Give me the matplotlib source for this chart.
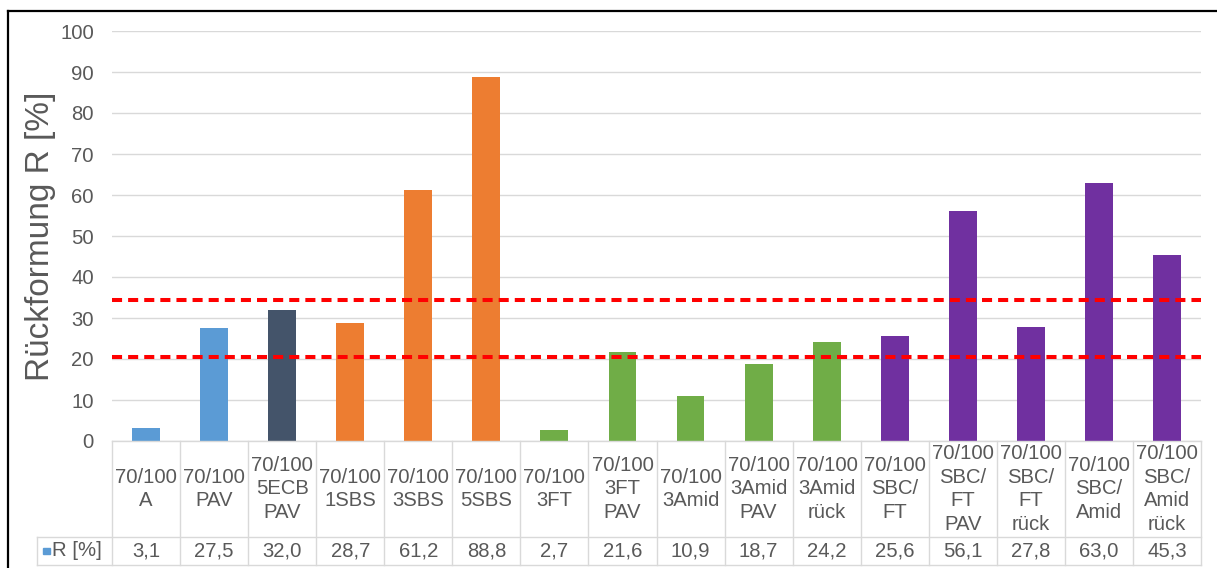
import numpy as np
import matplotlib.pyplot as plt
from matplotlib.lines import Line2D
from matplotlib.patches import Rectangle

plt.rcParams['font.family'] = ['Liberation Sans', 'DejaVu Sans']

# -- Data ----------------------------------------------------------------------

categories = [
    "70/100\nA", "70/100\nPAV", "70/100\n5ECB\nPAV", "70/100\n1SBS",
    "70/100\n3SBS", "70/100\n5SBS", "70/100\n3FT", "70/100\n3FT\nPAV",
    "70/100\n3Amid", "70/100\n3Amid\nPAV", "70/100\n3Amid\nrück",
    "70/100\nSBC/\nFT", "70/100\nSBC/\nFT\nPAV", "70/100\nSBC/\nFT\nrück",
    "70/100\nSBC/\nAmid", "70/100\nSBC/\nAmid\nrück",
]
r_values = [3.1, 27.5, 32.0, 28.7, 61.2, 88.8, 2.7, 21.6,
            10.9, 18.7, 24.2, 25.6, 56.1, 27.8, 63.0, 45.3]
groups = ["base", "base", "ecb", "sbs", "sbs", "sbs",
          "ft", "ft", "ft", "ft", "ft",
          "sbc", "sbc", "sbc", "sbc", "sbc"]
limits = [20.5, 34.5]

group_colors = {"base": "#5B9BD5", "ecb": "#44546A", "sbs": "#ED7D31",
                "ft": "#70AD47", "sbc": "#7030A0"}
text_gray = "#595959"
line_gray = "#D9D9D9"

W, H = 1217, 568
fig = plt.figure(figsize=(W / 100, H / 100), dpi=100)

# plot area and data table beneath it (pixel layout)
x0, x1 = 112, 1201
y_top, y_zero, y_mid, y_bot = 31, 441, 537, 565

ax = fig.add_axes([x0 / W, 1 - y_zero / H, (x1 - x0) / W, (y_zero - y_top) / H])
tax = fig.add_axes([x0 / W, 1 - y_bot / H, (x1 - x0) / W, (y_bot - y_zero) / H])

x = np.arange(len(categories))
ax.bar(x, r_values, width=0.41, color=[group_colors[g] for g in groups], zorder=2)
for lim in limits:
    ax.axhline(lim, color="#FF0000", linewidth=2.9, linestyle=(0, (2.5, 1.5)), zorder=3)

ax.set_xlim(-0.5, len(categories) - 0.5)
ax.set_ylim(0, 100)
ax.set_yticks(np.arange(0, 101, 10))
ax.set_xticks([])
ax.grid(axis="y", color=line_gray, linewidth=1, zorder=0)
for s in ax.spines.values():
    s.set_visible(False)
ax.tick_params(axis="y", length=0, pad=13, labelsize=14.6, labelcolor=text_gray)
ax.set_ylabel("Rückformung R [%]", fontsize=24, color=text_gray, labelpad=3)

# -- Data table ----------------------------------------------------------------

tax.set_xlim(-0.5, len(categories) - 0.5)
tax.set_ylim(0, 1)
tax.axis("off")
row_split = (y_bot - y_mid) / (y_bot - y_zero)
col_w = (x1 - x0) / len(categories)
x_left = -0.5 - (x0 - 37) / col_w

line_kw = dict(color=line_gray, linewidth=1, clip_on=False)
tax.plot([-0.5, len(categories) - 0.5], [1, 1], **line_kw)
tax.plot([x_left, len(categories) - 0.5], [row_split, row_split], **line_kw)
tax.plot([x_left, len(categories) - 0.5], [0, 0], **line_kw)
tax.plot([x_left, x_left], [0, row_split], **line_kw)
for i in range(len(categories) + 1):
    tax.plot([i - 0.5, i - 0.5], [0, 1], **line_kw)

for i, (cat, val) in enumerate(zip(categories, r_values)):
    tax.text(i, (1 + row_split) / 2, cat, ha="center", va="center",
             fontsize=14.6, color=text_gray, linespacing=1.3)
    tax.text(i, row_split / 2, f"{val:.1f}".replace(".", ","), ha="center",
             va="center", fontsize=14.6, color=text_gray)

sq = 7 / col_w
tax.add_patch(Rectangle((x_left + 6 / col_w, row_split / 2 - 0.028), sq, 0.056,
                        color=group_colors["base"], clip_on=False))
tax.text(x_left + 15 / col_w, row_split / 2, "R [%]", ha="left", va="center",
         fontsize=14.6, color=text_gray)

# outer frame (left and top edges)
fig.add_artist(Line2D([8 / W, 8 / W], [0, 1 - 11 / H], color="black",
                      linewidth=1.6, transform=fig.transFigure))
fig.add_artist(Line2D([8 / W, 1], [1 - 11 / H, 1 - 11 / H], color="black",
                      linewidth=1.6, transform=fig.transFigure))

fig.savefig("out.png", dpi=100)
